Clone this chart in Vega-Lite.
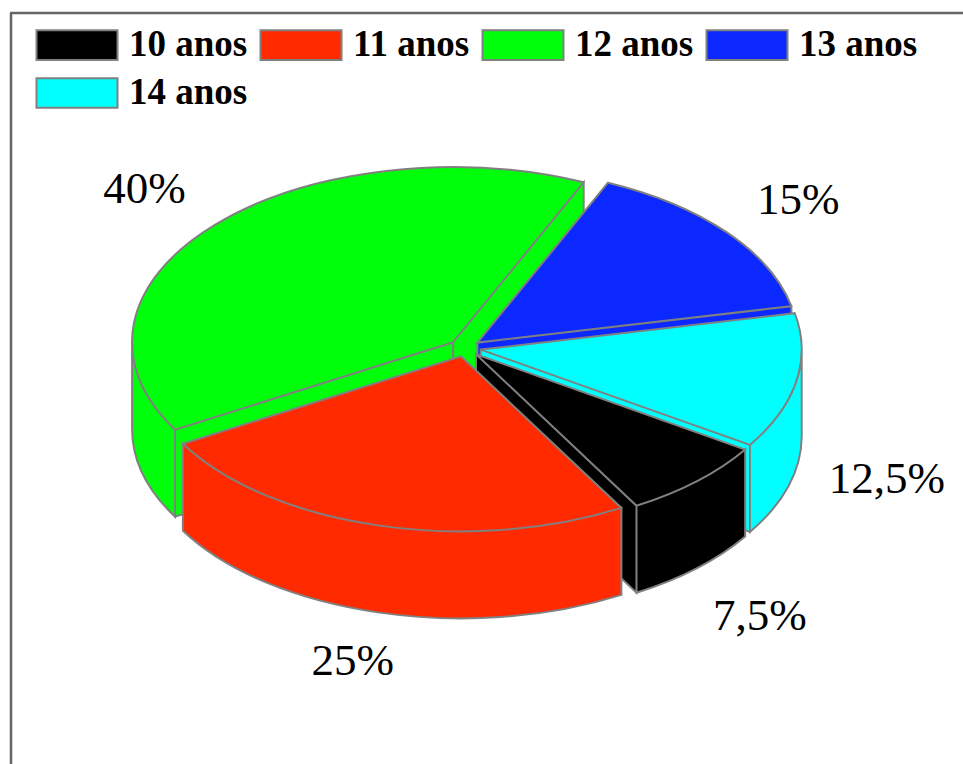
{
"$schema":"https://vega.github.io/schema/vega-lite/v6.json",
"width":963,"height":764,"padding":0,
"autosize":{"type":"fit","contains":"padding"},
"background":"white",
"view":{"stroke":null},
"data":{"values":[
{"idade":"12 anos","pct":40,"rotulo":"40%"},
{"idade":"13 anos","pct":15,"rotulo":"15%"},
{"idade":"14 anos","pct":12.5,"rotulo":"12,5%"},
{"idade":"10 anos","pct":7.5,"rotulo":"7,5%"},
{"idade":"11 anos","pct":25,"rotulo":"25%"}
]},
"transform":[
{"window":[{"op":"sum","field":"pct","as":"acum"}]},
{"calculate":"(150+(datum.acum-datum.pct)*3.6)*PI/180","as":"a0"},
{"calculate":"(150+datum.acum*3.6)*PI/180","as":"a1"},
{"calculate":"(datum.a0+datum.a1)/2","as":"mid"},
{"calculate":"round(160*cos(datum.mid))/10","as":"ox"},
{"calculate":"round(86*sin(datum.mid))/10","as":"oy"},
{"calculate":"round(10*(datum.ox+321*cos(datum.a0)))/10","as":"x0"},
{"calculate":"round(10*(datum.oy+175*sin(datum.a0)))/10","as":"y0"},
{"calculate":"round(10*(datum.ox+321*cos(datum.a1)))/10","as":"x1"},
{"calculate":"round(10*(datum.oy+175*sin(datum.a1)))/10","as":"y1"},
{"calculate":"datum.a0<PI?datum.a0:max(datum.a0,2*PI)","as":"s0"},
{"calculate":"datum.a0<PI?min(datum.a1,PI):datum.a1","as":"s1"},
{"calculate":"round(10*(datum.ox+321*cos(datum.s0)))/10","as":"sx0"},
{"calculate":"round(10*(datum.oy+175*sin(datum.s0)))/10","as":"sy0"},
{"calculate":"round(10*(datum.ox+321*cos(datum.s1)))/10","as":"sx1"},
{"calculate":"round(10*(datum.oy+175*sin(datum.s1)))/10","as":"sy1"},
{"calculate":"datum.s1>datum.s0?'M '+datum.sx0+' '+datum.sy0+' A 321 175 0 0 1 '+datum.sx1+' '+datum.sy1+' L '+datum.sx1+' '+(datum.sy1+87)+' A 321 175 0 0 0 '+datum.sx0+' '+(datum.sy0+87)+' Z ':''","as":"lado"},
{"calculate":"cos(datum.a1)>0?'M '+datum.ox+' '+datum.oy+' L '+datum.x1+' '+datum.y1+' L '+datum.x1+' '+(datum.y1+87)+' L '+datum.ox+' '+(datum.oy+87)+' Z ':''","as":"p1"},
{"calculate":"cos(datum.a0)<0?'M '+datum.ox+' '+datum.oy+' L '+datum.x0+' '+datum.y0+' L '+datum.x0+' '+(datum.y0+87)+' L '+datum.ox+' '+(datum.oy+87)+' Z ':''","as":"p0"},
{"calculate":"datum.lado+datum.p1+datum.p0+'M '+datum.ox+' '+datum.oy+' L '+datum.x0+' '+datum.y0+' A 321 175 0 0 1 '+datum.x1+' '+datum.y1+' Z'","as":"fatia"},
{"calculate":"464+430*cos(datum.mid)","as":"lx"},
{"calculate":"sin(datum.mid)>0?349+25+293*pow(sin(datum.mid),0.6):349+34+290*sin(datum.mid)","as":"ly"}
],
"layer":[
{"data":{"values":[{}]},"transform":[],"mark":{"type":"rule","color":"#666","strokeWidth":2.5},"encoding":{"x":{"value":11},"y":{"value":13},"y2":{"value":764}}},
{"data":{"values":[{}]},"transform":[],"mark":{"type":"rule","color":"#666","strokeWidth":2.5},"encoding":{"y":{"value":13},"x":{"value":10},"x2":{"value":963}}},
{"mark":{"type":"point","filled":true,"opacity":1,"stroke":"#808080","strokeWidth":2},
"encoding":{
"x":{"value":465},"y":{"value":348},"size":{"value":4},
"shape":{"field":"fatia","type":"nominal","scale":null},
"color":{"field":"idade","type":"nominal","title":null,
"scale":{"domain":["10 anos","11 anos","12 anos","13 anos","14 anos"],"range":["#000000","#ff2a00","#00ff0a","#0a28ff","#00ffff"]},
"legend":{"orient":"none","direction":"horizontal","legendX":56,"legendY":24,"columns":4,"symbolType":"M-2.025,-0.74H2.025V0.74H-2.025Z","symbolSize":1600,"symbolStrokeColor":"#808080","symbolStrokeWidth":2,"labelFont":"Liberation Serif","labelFontWeight":"bold","labelFontSize":37,"labelColor":"#000","labelOffset":31,"columnPadding":8,"rowPadding":8,"labelLimit":200,"padding":0}}
}},
{"mark":{"type":"text","font":"Liberation Serif","fontSize":45,"color":"#000"},
"encoding":{
"x":{"field":"lx","type":"quantitative","scale":null},
"y":{"field":"ly","type":"quantitative","scale":null},
"text":{"field":"rotulo"}
}}
]
}
